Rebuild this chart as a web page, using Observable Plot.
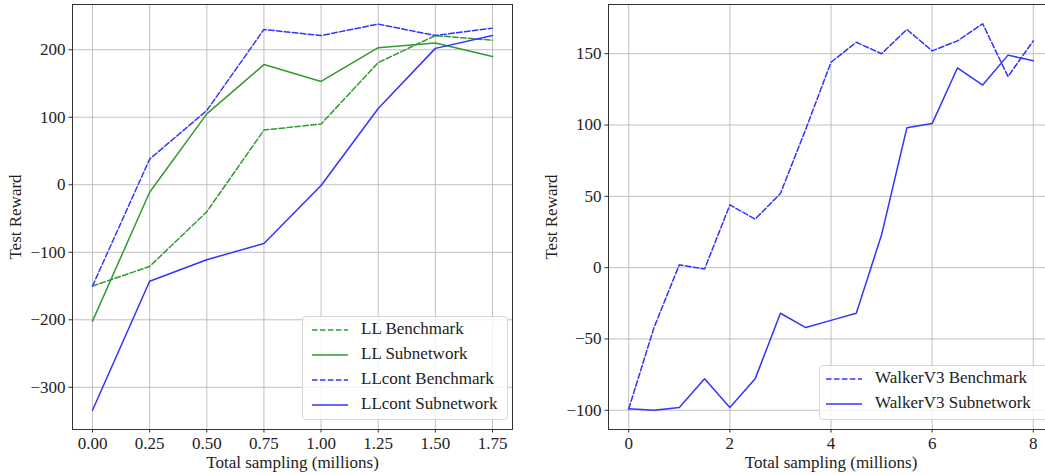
<!DOCTYPE html>
<html>
<head>
<meta charset="utf-8">
<script src="https://cdn.jsdelivr.net/npm/d3@7"></script>
<script src="https://cdn.jsdelivr.net/npm/@observablehq/plot@0.6"></script>
<style>
  html, body { margin: 0; padding: 0; background: #fff; }
  #wrap { position: relative; width: 1045px; height: 475px; overflow: hidden; font-family: "Liberation Serif", "DejaVu Serif", serif; }
  .panel { position: absolute; top: 0; }
  .legend { position: absolute; background: rgba(255,255,255,0.8); border: 1px solid #d6d6d6; border-radius: 4px; box-sizing: border-box; font-size: 17px; color: #222; }
  .legend .row { position: absolute; left: 0; height: 20px; white-space: nowrap; }
  .legend svg { position: absolute; top: 0; }
  .legend span { position: absolute; top: -1px; line-height: 20px; }
</style>
</head>
<body>
<div id="wrap"></div>
<script>
// ---- Left panel data (LunarLander) ----
const llSampling = [0, 0.25, 0.5, 0.75, 1.0, 1.25, 1.5, 1.75];
const llBenchmark = [-150, -121, -40, 81, 90, 181, 221, 214];
const llSubnetwork = [-202, -11, 105, 178, 153, 203, 210, 190];
const llcontBenchmark = [-150, 38, 110, 230, 221, 238, 221, 232];
const llcontSubnetwork = [-334, -143, -111, -87, -1, 113, 202, 221];
const leftXTicks = [0, 0.25, 0.5, 0.75, 1.0, 1.25, 1.5, 1.75];
const leftYTicks = [-300, -200, -100, 0, 100, 200];

// ---- Right panel data (Walker) ----
const walkerSampling = [0, 0.5, 1, 1.5, 2, 2.5, 3, 3.5, 4, 4.5, 5, 5.5, 6, 6.5, 7, 7.5, 8];
const walkerBenchmark = [-99, -42, 2, -1, 44, 34, 52, 97, 144, 158, 150, 167, 152, 159, 171, 134, 159];
const walkerSubnetwork = [-99, -100, -98, -78, -98, -78, -32, -42, -37, -32, 23, 98, 101, 140, 128, 149, 145];
const rightXTicks = [0, 2, 4, 6, 8];
const rightYTicks = [-100, -50, 0, 50, 100, 150];

const xLabel = "Total sampling (millions)";
const yLabel = "Test Reward";

const GREEN = "#339933";
const BLUE = "#3333ff";
const DASH = "5.55,2.4";

function series(xs, ys, name) { return xs.map((x, i) => ({x, y: ys[i], name})); }

function panel({width, marginLeft, marginRight, xDomain, yDomain, xTicks, yTicks, xFmt, lines}) {
  const marks = [
    Plot.gridX(xTicks, {stroke: "#b0b0b0", strokeOpacity: 1, strokeWidth: 0.8}),
    Plot.gridY(yTicks, {stroke: "#b0b0b0", strokeOpacity: 1, strokeWidth: 0.8}),
    Plot.axisX(xTicks, {tickSize: 3.5, tickPadding: 3.5, tickFormat: xFmt, stroke: "#333",
      label: xLabel, labelAnchor: "center", labelArrow: "none", labelOffset: 38, fill: "#222"}),
    Plot.axisY(yTicks, {tickSize: 3.5, tickPadding: 3.5, tickFormat: d3.format("d"), stroke: "#333",
      label: yLabel, labelAnchor: "center", labelArrow: "none", labelOffset: 64, fill: "#222"}),
  ];
  for (const l of lines) {
    marks.push(Plot.line(l.data, {x: "x", y: "y", stroke: l.color, strokeWidth: 1.5,
      strokeDasharray: l.dash ? DASH : null, strokeLinejoin: "round"}));
  }
  marks.push(Plot.frame({stroke: "#333", strokeWidth: 1}));
  return Plot.plot({
    width, height: 475,
    marginLeft, marginRight, marginTop: 4, marginBottom: 46,
    x: {domain: xDomain},
    y: {domain: yDomain},
    style: {fontFamily: "Liberation Serif, DejaVu Serif, serif", fontSize: "17px", background: "transparent", overflow: "visible"},
    marks
  });
}

const wrap = document.getElementById("wrap");

const leftLines = [
  {name: "LL Benchmark", data: series(llSampling, llBenchmark), color: GREEN, dash: true},
  {name: "LL Subnetwork", data: series(llSampling, llSubnetwork), color: GREEN, dash: false},
  {name: "LLcont Benchmark", data: series(llSampling, llcontBenchmark), color: BLUE, dash: true},
  {name: "LLcont Subnetwork", data: series(llSampling, llcontSubnetwork), color: BLUE, dash: false},
];
const left = panel({
  width: 530, marginLeft: 72, marginRight: 18,
  xDomain: [-0.0875, 1.8375], yDomain: [-362.5, 267],
  xTicks: leftXTicks, yTicks: leftYTicks, xFmt: d3.format(".2f"), lines: leftLines
});
left.classList.add("panel");
left.style.left = "0px";
wrap.appendChild(left);

const rightLines = [
  {name: "WalkerV3 Benchmark", data: series(walkerSampling, walkerBenchmark), color: BLUE, dash: true},
  {name: "WalkerV3 Subnetwork", data: series(walkerSampling, walkerSubnetwork), color: BLUE, dash: false},
];
const right = panel({
  width: 530, marginLeft: 78, marginRight: 7,
  xDomain: [-0.4, 8.4], yDomain: [-113.5, 184.5],
  xTicks: rightXTicks, yTicks: rightYTicks, xFmt: d3.format("d"), lines: rightLines
});
right.classList.add("panel");
right.style.left = "530px";
wrap.appendChild(right);

function legend(lines, box, rowTops, lineX, textX) {
  const div = document.createElement("div");
  div.className = "legend";
  Object.assign(div.style, {left: box.x + "px", top: box.y + "px", width: box.w + "px", height: box.h + "px"});
  lines.forEach((l, i) => {
    const row = document.createElement("div");
    row.className = "row";
    row.style.top = (rowTops[i] - box.y - 10) + "px";
    row.style.width = "100%";
    const ns = "http://www.w3.org/2000/svg";
    const svg = document.createElementNS(ns, "svg");
    svg.setAttribute("width", 40); svg.setAttribute("height", 20);
    svg.style.left = (lineX - box.x - 1) + "px";
    const ln = document.createElementNS(ns, "line");
    ln.setAttribute("x1", 0); ln.setAttribute("x2", 36); ln.setAttribute("y1", 10); ln.setAttribute("y2", 10);
    ln.setAttribute("stroke", l.color); ln.setAttribute("stroke-width", 1.5);
    if (l.dash) ln.setAttribute("stroke-dasharray", DASH);
    svg.appendChild(ln);
    row.appendChild(svg);
    const sp = document.createElement("span");
    sp.textContent = l.name;
    sp.style.left = (textX - box.x - 1) + "px";
    row.appendChild(sp);
    div.appendChild(row);
  });
  wrap.appendChild(div);
}

legend(leftLines, {x: 302, y: 316, w: 206, h: 104}, [329, 354, 379, 404], 312, 361);
legend(rightLines, {x: 819, y: 365, w: 240, h: 55}, [378, 403], 826, 875);
</script>
</body>
</html>
